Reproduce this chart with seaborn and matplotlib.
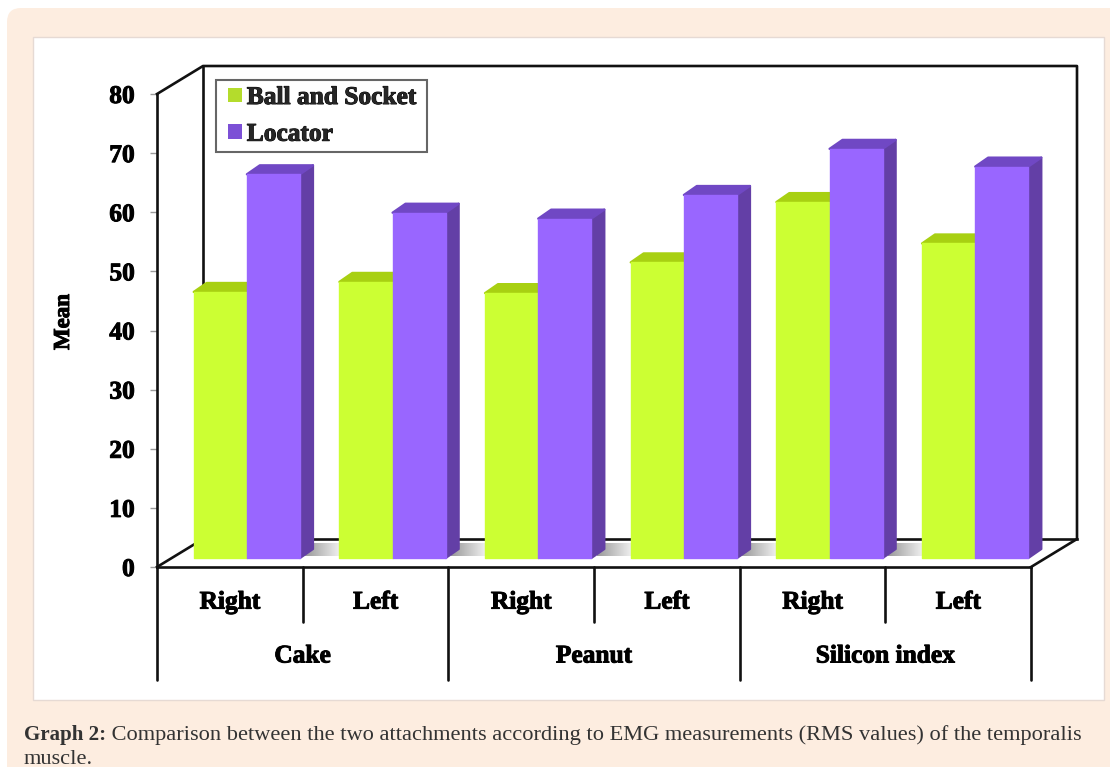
import numpy as np
import pandas as pd
import matplotlib
matplotlib.use("Agg")
import matplotlib.pyplot as plt
import matplotlib.patheffects as pe
from matplotlib.patches import FancyBboxPatch, Rectangle, Polygon, Patch
import seaborn as sns

# Measurements
foods = ["Cake", "Peanut", "Silicon index"]
sides = ["Right", "Left"]
ball_and_socket = [45.0, 46.7, 44.8, 50.0, 60.2, 53.2]
locator = [64.9, 58.4, 57.4, 61.4, 69.2, 66.2]
y_ticks = [0, 10, 20, 30, 40, 50, 60, 70, 80]
series_names = ["Ball and Socket", "Locator"]
caption_bold = "Graph 2:"
caption_rest = " Comparison between the two attachments according to EMG measurements (RMS values) of the temporalis"
caption_tail = "muscle."

# Colours
PEACH = "#FDEDE0"
GREEN, GREEN_SIDE, GREEN_TOP = "#CCFF33", "#8FB31F", "#A8D012"
PURPLE, PURPLE_SIDE, PURPLE_TOP = "#9966FF", "#633FA6", "#7048C4"
LABEL_SIZE = 18.3

W, H = 1110, 767
sns.set_theme(style="white")
plt.rcParams["font.family"] = ["Liberation Serif", "DejaVu Serif"]
fig = plt.figure(figsize=(W / 100, H / 100), dpi=100, facecolor="white")

# Page layer, in pixel coordinates with the origin at the top left
page = fig.add_axes([0, 0, 1, 1], zorder=0)
page.set_xlim(0, W)
page.set_ylim(H, 0)
page.axis("off")
page.add_patch(FancyBboxPatch((7, 8), W + 30, H + 30, boxstyle="round,pad=0,rounding_size=14",
                              fc=PEACH, ec="none", lw=0))
page.add_patch(Rectangle((33, 37), 1071, 663, fc="white", ec="#E6DAD4", lw=1))
page.add_patch(Rectangle((216, 80), 211, 72, fc="white", ec="#666666", lw=1.5))

page.text(24, 735, caption_bold, fontsize=15.1, fontweight="bold", va="center", color="#333333")
fig.canvas.draw()
bold_end = page.texts[0].get_window_extent().x1
page.text(bold_end, 735, caption_rest, fontsize=16.15, va="center", color="#333333")
page.text(24, 759, caption_tail, fontsize=16.15, va="center", color="#333333")

# Front plane of the 3D box
X0, X1, Y0, Y80 = 157, 1031, 567, 94
ax = fig.add_axes([X0 / W, 1 - Y0 / H, (X1 - X0) / W, (Y0 - Y80) / H], zorder=1)
ax.patch.set_alpha(0)

slots = [f"{f} {s}" for f in foods for s in sides]
frame = pd.DataFrame({
    "slot": slots * 2,
    "Mean": ball_and_socket + locator,
    "series": [series_names[0]] * 6 + [series_names[1]] * 6,
})
sns.barplot(data=frame, x="slot", y="Mean", hue="series", order=slots, hue_order=series_names,
            palette=[GREEN, PURPLE], saturation=1, width=0.73, gap=0, legend=False, ax=ax,
            zorder=5, linewidth=0, edgecolor="none")

ax.set_xlim(-0.5, 5.5)
ax.set_ylim(0, 80)
px_x = (X1 - X0) / 6          # pixels per category
px_y = (Y0 - Y80) / 80        # pixels per unit of Mean

# Depth offsets, in pixels
BAR_SHIFT = (17, 9)
BAR_DEPTH = (13, 9)
WALL = (46, 28)
to_x = lambda p: p / px_x
to_y = lambda p: p / px_y

# Box outline
LINE_W = 1.9
line_kw = dict(color="#111111", lw=LINE_W, clip_on=False, solid_capstyle="projecting", zorder=2.5)
xl, xr = -0.5, 5.5
wx, wy = to_x(WALL[0]), to_y(WALL[1])
ax.plot([xl, xl + wx, xr + wx, xr + wx, xr], [80, 80 + wy, 80 + wy, wy, 0], **line_kw)
ax.plot([xl + wx, xl + wx, xr + wx], [80 + wy, wy, wy], **line_kw)
ax.plot([xl, xl + wx], [0, wy], **line_kw)

green_bars, purple_bars = ax.containers
sx, sy = to_x(BAR_SHIFT[0]), to_y(BAR_SHIFT[1])
dx, dy = to_x(BAR_DEPTH[0]), to_y(BAR_DEPTH[1])

# Floor shading in the gaps between neighbouring bar pairs, kept inside the floor
floor = Polygon([(xl, 0), (xl + wx, wy), (xr + wx, wy), (xr, 0)], fc="none", ec="none",
                transform=ax.transData, clip_on=False)
ax.add_patch(floor)
ramp = np.linspace(0.60, 0.94, 64)[None, :]
for k, left_bar in enumerate(purple_bars):
    a = left_bar.get_x() + left_bar.get_width() + sx + dx * 0.4
    b = green_bars[k + 1].get_x() + sx if k < 5 else a + to_x(34)
    im = ax.imshow(ramp, cmap="gray", vmin=0, vmax=1, extent=(a, b, to_y(11), to_y(24)),
                   aspect="auto", zorder=2, interpolation="bilinear")
    im.set_clip_path(floor)
ax.set_xlim(-0.5, 5.5)
ax.set_ylim(0, 80)

# Bars: front faces come from seaborn, sides and tops extend them by the depth offsets
def extrude(bar, side, top, face, z):
    x0 = bar.get_x() + sx
    x1 = x0 + bar.get_width()
    h = bar.get_height() + sy
    ax.add_patch(Polygon([(x1, sy), (x1 + dx, sy + dy), (x1 + dx, h + dy), (x1, h)],
                         fc=side, ec=side, lw=1.6, joinstyle="round", clip_on=False, zorder=z))
    ax.add_patch(Polygon([(x0, h), (x0 + dx, h + dy), (x1 + dx, h + dy), (x1, h)],
                         fc=top, ec=top, lw=1.6, joinstyle="round", clip_on=False, zorder=z))
    bar.set_x(x0)
    bar.set_y(sy)
    bar.set_zorder(z + 0.1)
    bar.set_clip_on(False)
    bar.set_edgecolor(face)
    bar.set_linewidth(1.0)
    bar.set_joinstyle("round")

for i, (g, p) in enumerate(zip(green_bars, purple_bars)):
    extrude(g, GREEN_SIDE, GREEN_TOP, GREEN, 3 + i * 0.5)
    extrude(p, PURPLE_SIDE, PURPLE_TOP, PURPLE, 3.2 + i * 0.5)

# Axes furniture
for name in ("top", "right"):
    ax.spines[name].set_visible(False)
for name in ("left", "bottom"):
    ax.spines[name].set_linewidth(LINE_W)
    ax.spines[name].set_color("#111111")
    ax.spines[name].set_zorder(8)
stroke = [pe.withStroke(linewidth=0.7, foreground="black")]
ax.set_yticks(y_ticks)
ax.tick_params(axis="y", left=True, length=5, width=1, color="#9A9A9A", pad=11, labelsize=LABEL_SIZE)
for t in ax.get_yticklabels():
    t.set_fontweight("bold")
    t.set_color("black")
    t.set_path_effects(stroke)
ax.set_xlabel("")
ax.set_ylabel("Mean", fontsize=16.5, fontweight="bold", color="black", labelpad=0, path_effects=stroke)
ax.yaxis.set_label_coords((74 - X0) / (X1 - X0), (Y0 - 322) / (Y0 - Y80))

# Two-level category axis
ax.set_xticks(range(6))
ax.set_xticklabels(sides * 3, fontsize=LABEL_SIZE, fontweight="bold", color="black", path_effects=stroke)
ax.tick_params(axis="x", bottom=False, pad=11)
trans = ax.get_xaxis_transform()
below = lambda p: -p / (Y0 - Y80)
for k in range(7):
    depth = 113 if k % 2 == 0 else 55
    ax.plot([k - 0.5, k - 0.5], [0, below(depth)], transform=trans, color="#111111",
            lw=LINE_W, clip_on=False, zorder=8)
for k, food in enumerate(foods):
    ax.text(2 * k + 0.5, below(89), food, transform=trans, ha="center", va="center",
            fontsize=LABEL_SIZE, fontweight="bold", color="black", path_effects=stroke)

# Legend entries sit inside the box drawn on the page layer
handles = [Patch(fc="#B4DC2C", ec="none"), Patch(fc="#7C50D6", ec="none")]
leg = ax.legend(handles, series_names, loc="upper left",
                bbox_to_anchor=((228 - X0) / (X1 - X0), (Y0 - 86) / (Y0 - Y80)),
                borderaxespad=0, frameon=False,
                handlelength=0.56, handleheight=0.5, handletextpad=0.18,
                labelspacing=0.54, borderpad=0,
                prop={"size": LABEL_SIZE, "weight": "bold"})
leg.set_zorder(9)
for t in leg.get_texts():
    t.set_path_effects(stroke)

fig.savefig("out.png", dpi=100, facecolor=fig.get_facecolor())
